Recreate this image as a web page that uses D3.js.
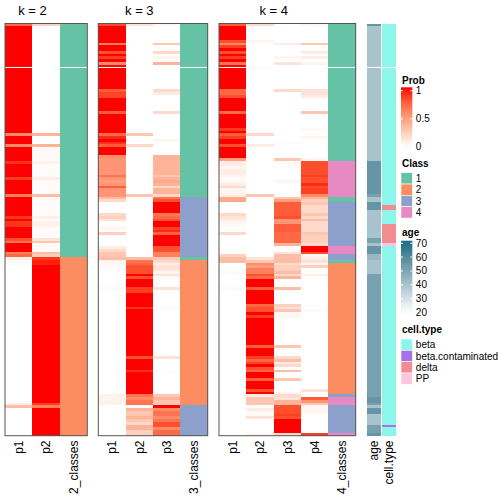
<!DOCTYPE html>
<html><head><meta charset="utf-8">
<script src="https://cdn.jsdelivr.net/npm/d3@7"></script>
<style>body{margin:0;background:#fff} svg{display:block} text{font-family:"Liberation Sans",Arial,Helvetica,sans-serif;fill:#000}</style>
</head><body><svg id="c" width="504" height="504"></svg>
<script>
// ---------- DATA (segments: [fromRow, toRow, value]) ----------
const N = 150;
const k2_p1 = [[0,1,0.75],[1,40,1],[40,41,0.6],[41,44,1],[44,45,0.6],[45,50,1],[50,51,0.93],[51,56,1],[56,57,0.9],[57,62,1],[62,63,0.65],[63,70,1],[70,71,0.92],[71,72,1],[72,74,0.93],[74,78,1],[78,79,0.85],[79,80,0.7],[80,83,1],[83,84,0.65],[84,85,0.75],[85,86,0.08],[86,88,0.03],[88,138,0],[138,139,0.1],[139,140,0.35],[140,150,0]];
const k2_p2 = [[0,1,0.25],[1,40,0],[40,41,0.4],[41,44,0],[44,45,0.4],[45,50,0.03],[50,51,0.07],[51,56,0.02],[56,57,0.1],[57,62,0.02],[62,63,0.35],[63,70,0.02],[70,71,0.08],[71,72,0.02],[72,74,0.07],[74,78,0.02],[78,79,0.15],[79,80,0.3],[80,83,0.02],[83,84,0.35],[84,85,0.25],[85,86,0.92],[86,88,0.97],[88,138,1],[138,139,0.9],[139,140,0.65],[140,150,1]];
const k2_class = [[0,85,1],[85,150,2]];

const k3_p1 = [[0,1,0.85],[1,7,1],[7,8,0.65],[8,10,1],[10,11,0.85],[11,12,1],[12,13,0.9],[13,14,1],[14,15,0.6],[15,24,1],[24,25,0.8],[25,27,0.88],[27,32,1],[32,33,0.8],[33,40,1],[40,41,0.75],[41,42,0.95],[42,43,1],[43,44,0.93],[44,45,0.8],[45,48,1],[48,49,0.6],[49,55,0.55],[55,56,0.7],[56,57,0.55],[57,58,0.5],[58,59,0.55],[59,60,0.8],[60,63,0.55],[63,64,0.35],[64,65,0.2],[65,69,0],[69,70,0.2],[70,71,0.25],[71,72,0.15],[72,74,0],[74,75,0.05],[75,76,0],[76,77,0.25],[77,81,0],[81,82,0.1],[82,83,0.2],[83,85,0.3],[85,86,0.35],[86,87,0.05],[87,90,0.03],[90,96,0],[96,97,0.03],[97,135,0],[135,139,0.07],[139,150,0]];
const k3_p2 = [[0,1,0.15],[1,40,0],[40,41,0.3],[41,44,0],[44,45,0.2],[45,62,0],[62,63,0.3],[63,85,0],[85,86,0.35],[86,87,0.7],[87,88,0.75],[88,91,0.85],[91,92,1],[92,93,0.85],[93,96,1],[96,98,0.9],[98,103,1],[103,104,0.93],[104,121,1],[121,122,0.85],[122,126,1],[126,127,0.93],[127,135,1],[135,136,0.7],[136,137,0.6],[137,139,0.7],[139,140,0],[140,141,0.4],[141,143,0.3],[143,144,0.4],[144,145,0.3],[145,146,0.2],[146,148,0.4],[148,150,0.25]];
const k3_p3 = [[0,1,0.05],[1,7,0],[7,8,0.3],[8,10,0],[10,11,0.2],[11,12,0],[12,13,0.05],[13,14,0],[14,15,0.4],[15,24,0],[24,25,0.2],[25,26,0.1],[26,32,0],[32,33,0.2],[33,42,0],[42,43,0.05],[43,48,0],[48,55,0.4],[55,56,0.3],[56,57,0.4],[57,58,0.45],[58,59,0.4],[59,60,0.2],[60,62,0.4],[62,63,0.2],[63,64,0.7],[64,65,0.85],[65,69,1],[69,70,0.7],[70,71,0.75],[71,72,0.85],[72,74,1],[74,75,0.9],[75,76,0.95],[76,77,0.78],[77,81,1],[81,83,0.85],[83,85,0.65],[85,86,0.3],[86,87,0.2],[87,88,0.1],[88,90,0.15],[90,91,0.05],[91,92,0.15],[92,93,0.03],[93,96,0],[96,97,0.15],[97,103,0],[103,104,0.03],[104,121,0],[121,122,0.15],[122,126,0],[126,127,0.03],[127,135,0],[135,136,0.3],[136,137,0.4],[137,139,0.3],[139,140,1],[140,141,0.6],[141,143,0.7],[143,144,0.6],[144,145,0.7],[145,147,0.85],[147,148,0.6],[148,150,0.75]];
const k3_class = [[0,63,1],[63,85,3],[85,86,1],[86,139,2],[139,150,3]];

const k4_p1 = [[0,1,0.8],[1,6,1],[6,7,0.85],[7,8,0.6],[8,9,0.9],[9,10,1],[10,11,0.85],[11,12,1],[12,13,0.9],[13,14,1],[14,15,0.7],[15,24,1],[24,26,0.75],[26,27,0.85],[27,32,1],[32,33,0.75],[33,38,1],[38,39,0.92],[39,40,1],[40,41,0.8],[41,42,0.9],[42,44,1],[44,45,0.85],[45,49,1],[49,50,0.5],[50,52,0.1],[52,53,0.05],[53,55,0.1],[55,56,0.05],[56,58,0.03],[58,59,0.1],[59,60,0.2],[60,62,0.05],[62,63,0.1],[63,65,0.45],[65,69,0],[69,70,0.2],[70,71,0.15],[71,72,0.1],[72,73,0.05],[73,74,0.03],[74,76,0],[76,77,0.2],[77,84,0],[84,85,0.25],[85,87,0.35],[87,90,0],[90,91,0.03],[91,96,0],[96,97,0.03],[97,150,0]];
const k4_p2 = [[0,1,0.2],[1,6,0],[6,7,0.05],[7,16,0],[16,17,0.03],[17,40,0],[40,41,0.2],[41,44,0],[44,45,0.1],[45,62,0],[62,63,0.3],[63,85,0],[85,86,0.15],[86,87,0.3],[87,88,0.6],[88,89,0.5],[89,91,0.65],[91,92,0.85],[92,93,0.75],[93,96,1],[96,97,0.8],[97,102,1],[102,103,0.75],[103,105,0.85],[105,106,1],[106,107,0.9],[107,117,1],[117,118,0.8],[118,121,1],[121,122,0.9],[122,123,0.75],[123,124,0.9],[124,125,1],[125,126,0.85],[126,127,0.75],[127,129,1],[129,130,0.8],[130,133,1],[133,134,0.85],[134,135,1],[135,136,0.1],[136,137,0.3],[137,139,0.3],[139,140,0],[140,141,0.1],[141,143,0.03],[143,144,0.15],[144,149,0],[149,150,0.05]];
const k4_p3 = [[0,7,0],[7,8,0.1],[8,12,0],[12,13,0.05],[13,14,0],[14,15,0.15],[15,24,0],[24,25,0.2],[25,43,0],[43,44,0.03],[44,49,0],[49,50,0.3],[50,51,0.03],[51,57,0],[57,58,0.05],[58,63,0],[63,64,0.3],[64,65,0.5],[65,70,0.8],[70,71,0.85],[71,73,0.55],[73,76,0.8],[76,80,0.75],[80,81,0.4],[81,83,0],[83,84,0.15],[84,87,0.35],[87,88,0.2],[88,90,0.25],[90,91,0.35],[91,92,0.2],[92,93,0.4],[93,96,0],[96,97,0.35],[97,102,0],[102,103,0.25],[103,104,0.15],[104,105,0.3],[105,106,0.03],[106,107,0.05],[107,117,0],[117,118,0.3],[118,121,0],[121,122,0.2],[122,123,0.35],[123,124,0.1],[124,125,0.2],[125,126,0],[126,127,0.35],[127,129,0],[129,130,0.3],[130,134,0],[134,135,0.05],[135,136,0.2],[136,137,0.15],[137,139,0.4],[139,142,0.85],[142,143,0.9],[143,144,0.85],[144,149,1],[149,150,0.2]];
const k4_p4 = [[0,1,0.05],[1,7,0],[7,8,0.3],[8,10,0],[10,11,0.1],[11,12,0],[12,13,0.1],[13,14,0],[14,15,0.05],[15,24,0],[24,26,0.15],[26,27,0.1],[27,32,0],[32,33,0.3],[33,38,0],[38,39,0.03],[39,41,0],[41,42,0.05],[42,49,0],[49,50,0.05],[50,55,0.85],[55,56,0.9],[56,58,0.85],[58,59,0.95],[59,60,0.85],[60,62,0.9],[62,63,0.6],[63,64,0.4],[64,65,0.25],[65,66,0.3],[66,69,0.2],[69,70,0.3],[70,71,0.2],[71,72,0.35],[72,76,0.2],[76,77,0.3],[77,80,0.25],[80,81,0.2],[81,83,1],[83,84,0.85],[84,85,0.05],[85,86,0.1],[86,87,0.15],[87,88,0.05],[88,89,0.25],[89,91,0],[91,92,0.1],[92,104,0],[104,105,0.03],[105,133,0],[133,134,0.15],[134,136,0],[136,137,0.8],[137,138,0.55],[138,139,0.3],[139,142,0.05],[142,149,0],[149,150,0.9]];
const k4_class = [[0,50,1],[50,63,4],[63,65,1],[65,81,3],[81,84,4],[84,86,3],[86,87,1],[87,135,2],[135,136,3],[136,139,4],[139,149,3],[149,150,4]];

const age = [[0,1,56],[1,50,40],[50,62,56],[62,63,52],[63,65,40],[65,68,56],[68,78,40],[78,80,52],[80,81,40],[81,84,56],[84,86,44],[86,91,40],[91,136,52],[136,138,56],[138,139,52],[139,140,40],[140,142,56],[142,146,40],[146,149,52],[149,150,56]];
const cellType = [[0,66,"beta"],[66,68,"delta"],[68,73,"beta"],[73,80,"delta"],[80,81,"PP"],[81,146,"beta"],[146,147,"beta.contaminated"],[147,150,"beta"]];

const classLevels = [1,2,3,4];
const cellLevels = ["beta","beta.contaminated","delta","PP"];
const probBreaks = [0,0.5,1];
const ageBreaks = [20,30,40,50,60,70];
const gapRow = 16;

// ---------- SCALES / STYLE ----------
const probColor = d3.scaleLinear().domain([0,1]).range(["#ffffff","#ff0000"]).interpolate(d3.interpolateLab);
const classColor = d3.scaleOrdinal().domain(classLevels).range(["#66C2A5","#FC8D62","#8DA0CB","#E78AC3"]);
const ageColor = d3.scaleLinear().domain([20,70]).range(["#ffffff","#1B6F85"]).interpolate(d3.interpolateLab);
const cellColor = d3.scaleOrdinal().domain(cellLevels).range(["#8CF6EA","#A971E8","#F28C92","#FCC6E0"]);

const svg = d3.select("#c");
const y = d3.scaleLinear().domain([0,N]).range([23.5,435.7]);

const panels = [
  {title:"k = 2", x0:5, x1:87.3, cols:[["p1",k2_p1,"p"],["p2",k2_p2,"p"],["2_classes",k2_class,"c"]]},
  {title:"k = 3", x0:98.3, x1:207.7, cols:[["p1",k3_p1,"p"],["p2",k3_p2,"p"],["p3",k3_p3,"p"],["3_classes",k3_class,"c"]]},
  {title:"k = 4", x0:219, x1:355.7, cols:[["p1",k4_p1,"p"],["p2",k4_p2,"p"],["p3",k4_p3,"p"],["p4",k4_p4,"p"],["4_classes",k4_class,"c"]]}
];

function colLabel(g, x, text){
  g.append("text").attr("transform",`translate(${x},440.5) rotate(-90)`)
   .attr("text-anchor","end").attr("dy","0.35em").style("font-size","12px").text(text);
}

panels.forEach(p=>{
  const g = svg.append("g");
  const x = d3.scaleBand().domain(p.cols.map(c=>c[0])).range([p.x0,p.x1]);
  p.cols.forEach(([lab,segs,type])=>{
    g.append("g").attr("shape-rendering","crispEdges").selectAll("rect").data(segs).join("rect")
      .attr("x",x(lab)).attr("width",x.bandwidth())
      .attr("y",d=>y(d[0])).attr("height",d=>y(d[1])-y(d[0]))
      .attr("fill",d=>type==="p"?probColor(d[2]):classColor(d[2]));
    colLabel(g, x(lab)+x.bandwidth()/2, lab);
  });
  g.append("line").attr("x1",p.x0).attr("x2",p.x1).attr("y1",y(gapRow)).attr("y2",y(gapRow))
    .attr("stroke","#fff").attr("stroke-width",1);
  g.append("rect").attr("x",p.x0).attr("y",y(0)).attr("width",p.x1-p.x0).attr("height",y(N)-y(0))
    .attr("fill","none").attr("stroke","#555").attr("stroke-width",1);
  const pcols = p.cols.filter(c=>c[2]==="p");
  const cx = (x(pcols[0][0]) + x(pcols[pcols.length-1][0]) + x.bandwidth())/2;
  g.append("text").attr("x",cx).attr("y",15).attr("text-anchor","middle").style("font-size","13px").text(p.title);
});

// annotations
const ann = svg.append("g");
const ax = d3.scaleBand().domain(["age","cell.type"]).range([367,396]).paddingInner(0.035);
ann.append("g").attr("shape-rendering","crispEdges").selectAll("rect").data(age).join("rect")
  .attr("x",ax("age")).attr("width",ax.bandwidth()).attr("y",d=>y(d[0])).attr("height",d=>y(d[1])-y(d[0]))
  .attr("fill",d=>ageColor(d[2]));
ann.append("g").attr("shape-rendering","crispEdges").selectAll("rect").data(cellType).join("rect")
  .attr("x",ax("cell.type")).attr("width",ax.bandwidth()).attr("y",d=>y(d[0])).attr("height",d=>y(d[1])-y(d[0]))
  .attr("fill",d=>cellColor(d[2]));
ann.append("line").attr("x1",367).attr("x2",396).attr("y1",y(gapRow)).attr("y2",y(gapRow)).attr("stroke","#fff");
["age","cell.type"].forEach(l=>colLabel(ann, ax(l)+ax.bandwidth()/2, l));

// ---------- LEGENDS ----------
const L = svg.append("g");
const lx = 401, lw = 11.34;
const defs = svg.append("defs");
function gradLegend(id, title, titleY, top, bottom, yScale, color, breaks, dom){
  L.append("text").attr("x",lx+1).attr("y",titleY).style("font-size","10px").style("font-weight","bold").text(title);
  const gr = defs.append("linearGradient").attr("id",id).attr("x1",0).attr("x2",0).attr("y1",1).attr("y2",0);
  d3.range(0,1.0001,0.1).forEach(t=>{
    const yy = bottom - t*(bottom-top);
    gr.append("stop").attr("offset",t).attr("stop-color",color(Math.max(dom[0],Math.min(dom[1],yScale.invert(yy)))));
  });
  L.append("rect").attr("x",lx).attr("y",top).attr("width",lw).attr("height",bottom-top).attr("fill",`url(#${id})`);
  breaks.forEach(b=>{
    const yy = yScale(b);
    L.append("line").attr("x1",lx).attr("x2",lx+2).attr("y1",yy).attr("y2",yy).attr("stroke","#fff");
    L.append("line").attr("x1",lx+lw-2).attr("x2",lx+lw).attr("y1",yy).attr("y2",yy).attr("stroke","#fff");
    L.append("text").attr("x",lx+lw+3.5).attr("y",yy).attr("dy","0.35em").style("font-size","10px").text(b);
  });
}
gradLegend("gp","Prob",83.5,87.3,150,d3.scaleLinear().domain([0,1]).range([146.7,90.7]),probColor,probBreaks,[0,1]);
gradLegend("ga","age",235.5,240.7,315,d3.scaleLinear().domain([20,70]).range([312.3,243.3]),ageColor,ageBreaks,[20,70]);

function discLegend(title, titleY, top, levels, color){
  L.append("text").attr("x",lx+1).attr("y",titleY).style("font-size","10px").style("font-weight","bold").text(title);
  const s = d3.scaleBand().domain(levels).range([top, top+levels.length*11.34]);
  levels.forEach(l=>{
    L.append("rect").attr("x",lx).attr("y",s(l)).attr("width",lw).attr("height",s.bandwidth())
      .attr("fill",color(l)).attr("stroke","#fff").attr("stroke-width",0.6);
    L.append("text").attr("x",lx+lw+3.5).attr("y",s(l)+s.bandwidth()/2).attr("dy","0.35em").style("font-size","10px").text(l);
  });
}
discLegend("Class",167,172.7,classLevels,classColor);
discLegend("cell.type",332.5,339,cellLevels,cellColor);
</script></body></html>
